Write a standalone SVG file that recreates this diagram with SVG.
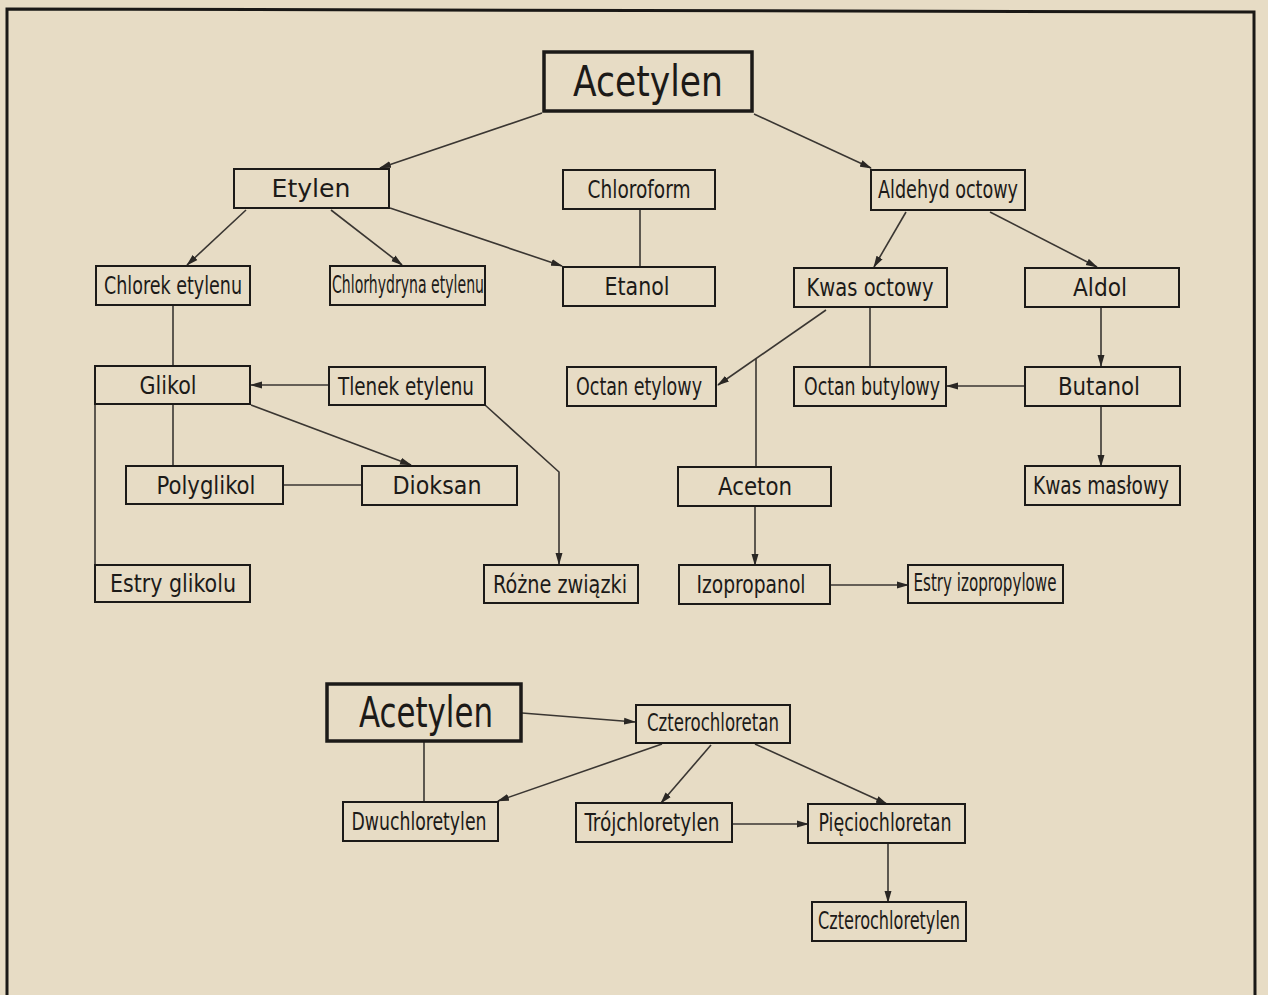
<svg xmlns="http://www.w3.org/2000/svg" width="1268" height="995" viewBox="0 0 1268 995">
<style>
.bg{fill:#e7dcc5}
.frame{fill:none;stroke:#1a1816;stroke-width:3}
.box{fill:none;stroke:#1c1a18;stroke-width:2}
.thick{fill:none;stroke:#1c1a18;stroke-width:3.5}
.t{font-family:"DejaVu Sans Condensed","DejaVu Sans",sans-serif;font-stretch:condensed;font-size:24px;fill:#1c1a18;text-anchor:middle}
.big{font-size:42px}
.c line,.c polyline{stroke:#3a3632;stroke-width:1.6;fill:none}
.a{marker-end:url(#ah)}
</style>
<defs>
<marker id="ah" markerUnits="userSpaceOnUse" markerWidth="12" markerHeight="8" viewBox="0 0 12 8" refX="11" refY="4" orient="auto">
<path d="M0,0.5 L12,4 L0,7.5 Z" fill="#2a2724"/>
</marker>
</defs>
<rect class="bg" x="0" y="0" width="1268" height="995"/>
<polyline class="frame" points="7,995 7,9 1254,12 1255,995"/>

<g class="c">
<line class="a" x1="542" y1="113" x2="380" y2="168"/>
<line class="a" x1="754" y1="114" x2="871" y2="168"/>
<line class="a" x1="246" y1="210" x2="187" y2="265"/>
<line class="a" x1="331" y1="210" x2="402" y2="265"/>
<line class="a" x1="390" y1="208" x2="562" y2="266"/>
<line x1="640" y1="209" x2="640" y2="267"/>
<line class="a" x1="906" y1="212" x2="874" y2="267"/>
<line class="a" x1="990" y1="212" x2="1097" y2="267"/>
<line x1="173" y1="305" x2="173" y2="366"/>
<line class="a" x1="329" y1="385" x2="251" y2="385"/>
<line class="a" x1="251" y1="405" x2="411" y2="465"/>
<line x1="173" y1="404" x2="173" y2="466"/>
<line x1="283" y1="485" x2="362" y2="485"/>
<line x1="95" y1="404" x2="95" y2="565"/>
<polyline class="a" points="485,405 559,472 559,564"/>
<line class="a" x1="826" y1="310" x2="718" y2="385"/>
<line x1="756" y1="358" x2="756" y2="467"/>
<line x1="870" y1="307" x2="870" y2="367"/>
<line class="a" x1="1101" y1="307" x2="1101" y2="366"/>
<line class="a" x1="1025" y1="386" x2="947" y2="386"/>
<line class="a" x1="1101" y1="406" x2="1101" y2="466"/>
<line class="a" x1="755" y1="506" x2="755" y2="565"/>
<line class="a" x1="830" y1="585" x2="908" y2="585"/>
<line class="a" x1="522" y1="713" x2="635" y2="722"/>
<line x1="424" y1="741" x2="424" y2="802"/>
<line class="a" x1="662" y1="744" x2="498" y2="801"/>
<line class="a" x1="711" y1="745" x2="661" y2="803"/>
<line class="a" x1="755" y1="744" x2="887" y2="804"/>
<line class="a" x1="732" y1="824" x2="808" y2="824"/>
<line class="a" x1="888" y1="843" x2="888" y2="902"/>
</g>

<g id="acetylen1"><rect class="thick" x="544" y="52" width="208" height="59"/><text class="t big" x="648" y="96" textLength="150" lengthAdjust="spacingAndGlyphs">Acetylen</text></g>
<g id="etylen"><rect class="box" x="234" y="169" width="155" height="39"/><text class="t" x="311" y="197" font-size="26" textLength="79" lengthAdjust="spacingAndGlyphs">Etylen</text></g>
<g id="chloroform"><rect class="box" x="563" y="170" width="152" height="39"/><text class="t" x="639" y="198" textLength="103" lengthAdjust="spacingAndGlyphs">Chloroform</text></g>
<g id="aldehyd"><rect class="box" x="871" y="170" width="154" height="40"/><text class="t" x="948" y="198" textLength="140" lengthAdjust="spacingAndGlyphs">Aldehyd octowy</text></g>
<g id="chlorek"><rect class="box" x="96" y="266" width="154" height="39"/><text class="t" x="173" y="294" textLength="138" lengthAdjust="spacingAndGlyphs">Chlorek etylenu</text></g>
<g id="chlorhydryna"><rect class="box" x="330" y="266" width="155" height="39"/><text class="t" x="408" y="293" font-size="21" textLength="152" lengthAdjust="spacingAndGlyphs">Chlorhydryna etylenu</text></g>
<g id="etanol"><rect class="box" x="563" y="267" width="152" height="39"/><text class="t" x="637" y="295" textLength="65" lengthAdjust="spacingAndGlyphs">Etanol</text></g>
<g id="kwasoctowy"><rect class="box" x="794" y="268" width="153" height="39"/><text class="t" x="870" y="296" textLength="127" lengthAdjust="spacingAndGlyphs">Kwas octowy</text></g>
<g id="aldol"><rect class="box" x="1025" y="268" width="154" height="39"/><text class="t" x="1100" y="296" textLength="54" lengthAdjust="spacingAndGlyphs">Aldol</text></g>
<g id="glikol"><rect class="box" x="95" y="366" width="155" height="38"/><text class="t" x="168" y="394" textLength="57" lengthAdjust="spacingAndGlyphs">Glikol</text></g>
<g id="tlenek"><rect class="box" x="329" y="367" width="156" height="38"/><text class="t" x="406" y="395" textLength="136" lengthAdjust="spacingAndGlyphs">Tlenek etylenu</text></g>
<g id="octanetylowy"><rect class="box" x="567" y="367" width="149" height="39"/><text class="t" x="639" y="395" textLength="126" lengthAdjust="spacingAndGlyphs">Octan etylowy</text></g>
<g id="octanbutylowy"><rect class="box" x="794" y="367" width="152" height="39"/><text class="t" x="872" y="395" textLength="136" lengthAdjust="spacingAndGlyphs">Octan butylowy</text></g>
<g id="butanol"><rect class="box" x="1025" y="367" width="155" height="39"/><text class="t" x="1099" y="395" textLength="82" lengthAdjust="spacingAndGlyphs">Butanol</text></g>
<g id="polyglikol"><rect class="box" x="126" y="466" width="157" height="38"/><text class="t" x="206" y="494" textLength="99" lengthAdjust="spacingAndGlyphs">Polyglikol</text></g>
<g id="dioksan"><rect class="box" x="362" y="466" width="155" height="39"/><text class="t" x="437" y="494" textLength="89" lengthAdjust="spacingAndGlyphs">Dioksan</text></g>
<g id="aceton"><rect class="box" x="678" y="467" width="153" height="39"/><text class="t" x="755" y="495" textLength="74" lengthAdjust="spacingAndGlyphs">Aceton</text></g>
<g id="kwasmaslowy"><rect class="box" x="1025" y="466" width="155" height="39"/><text class="t" x="1101" y="494" textLength="136" lengthAdjust="spacingAndGlyphs">Kwas masłowy</text></g>
<g id="estryglikolu"><rect class="box" x="95" y="565" width="155" height="37"/><text class="t" x="173" y="592" textLength="126" lengthAdjust="spacingAndGlyphs">Estry glikolu</text></g>
<g id="rozne"><rect class="box" x="484" y="565" width="154" height="38"/><text class="t" x="560" y="593" textLength="134" lengthAdjust="spacingAndGlyphs">Różne związki</text></g>
<g id="izopropanol"><rect class="box" x="679" y="565" width="151" height="39"/><text class="t" x="751" y="593" textLength="109" lengthAdjust="spacingAndGlyphs">Izopropanol</text></g>
<g id="estryizo"><rect class="box" x="908" y="565" width="155" height="38"/><text class="t" x="985" y="591" font-size="20" textLength="143" lengthAdjust="spacingAndGlyphs">Estry izopropylowe</text></g>

<g id="acetylen2"><rect class="thick" x="327" y="684" width="194" height="57"/><text class="t big" x="426" y="727" font-size="40" textLength="134" lengthAdjust="spacingAndGlyphs">Acetylen</text></g>
<g id="czterochloretan"><rect class="box" x="636" y="705" width="154" height="38"/><text class="t" x="713" y="731" font-size="21" textLength="132" lengthAdjust="spacingAndGlyphs">Czterochloretan</text></g>
<g id="dwuchloretylen"><rect class="box" x="343" y="802" width="155" height="39"/><text class="t" x="419" y="830" font-size="22" textLength="135" lengthAdjust="spacingAndGlyphs">Dwuchloretylen</text></g>
<g id="trojchloretylen"><rect class="box" x="576" y="803" width="156" height="39"/><text class="t" x="652" y="831" font-size="22" textLength="135" lengthAdjust="spacingAndGlyphs">Trójchloretylen</text></g>
<g id="pieciochloretan"><rect class="box" x="808" y="804" width="157" height="39"/><text class="t" x="885" y="831" font-size="22" textLength="133" lengthAdjust="spacingAndGlyphs">Pięciochloretan</text></g>
<g id="czterochloretylen"><rect class="box" x="812" y="902" width="154" height="39"/><text class="t" x="889" y="929" font-size="21" textLength="142" lengthAdjust="spacingAndGlyphs">Czterochloretylen</text></g>
</svg>
